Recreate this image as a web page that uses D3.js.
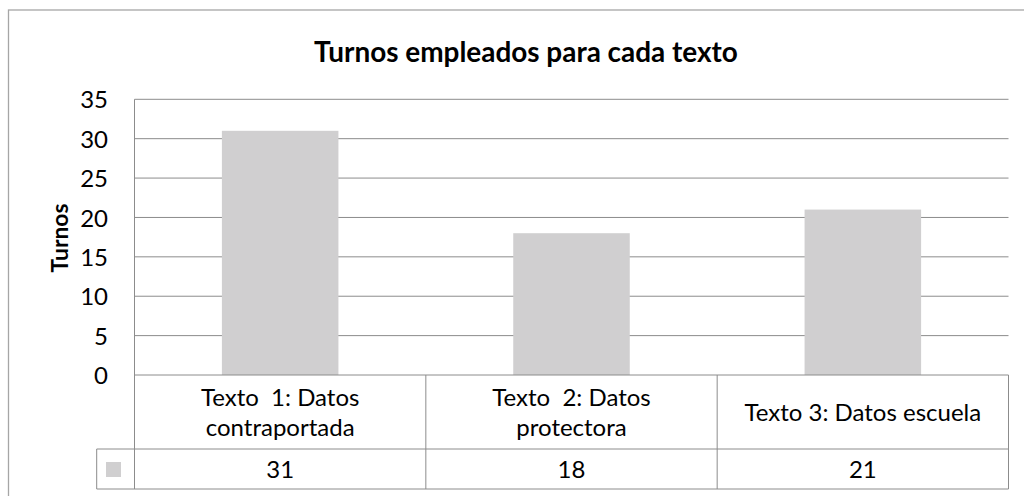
<!DOCTYPE html>
<html>
<head>
<meta charset="utf-8">
<script src="https://cdn.jsdelivr.net/npm/d3@7"></script>
<style>
html,body{margin:0;padding:0;background:#fff;}
svg{display:block;}
svg text{white-space:pre;}
</style>
</head>
<body>
<svg id="chart" width="1024" height="496"></svg>
<script>
const title = "Turnos empleados para cada texto";
const yAxisTitle = "Turnos";
const categories = ["Texto  1: Datos contraportada", "Texto  2: Datos protectora", "Texto 3: Datos escuela"];
const categoryLines = [["Texto  1: Datos", "contraportada"], ["Texto  2: Datos", "protectora"], ["Texto 3: Datos escuela"]];
const values = [31, 18, 21];
const yTicks = [0, 5, 10, 15, 20, 25, 30, 35];

const FONT = "Lato, 'Open Sans', sans-serif";
const svg = d3.select("#chart");

// measure to size fonts like the original (Calibri-like widths)
const cnv = document.createElement("canvas").getContext("2d");
function fitSize(text, weight, target) {
  cnv.font = `${weight} 100px Lato`;
  return 100 * target / cnv.measureText(text).width;
}
const bodySize = Math.min(24, fitSize("contraportada", "normal", 150));
const titleSize = Math.min(28, fitSize(title, "bold", 424));

const L = 134.5, R = 1008.5, T = 99.3, B = 375;
const tableMid = 449, tableBottom = 489, legendLeft = 96.7;
const gridColor = "#8c8c8c";
const barColor = "#d0cfd0";

// outer border
svg.append("rect").attr("x", 8.5).attr("y", 10).attr("width", 1030).attr("height", 500)
  .attr("fill", "none").attr("stroke", "#a6a6a6").attr("stroke-width", 1.3);

const x = d3.scaleBand().domain(categories).range([L, R]).paddingInner(0.6).paddingOuter(0.3);
const xCol = d3.scaleBand().domain(categories).range([L, R]).padding(0);
const y = d3.scaleLinear().domain([0, 35]).range([B, T]);

// gridlines
svg.append("g").selectAll("line").data(yTicks.filter(d => d > 0)).join("line")
  .attr("x1", L).attr("x2", R).attr("y1", d => y(d)).attr("y2", d => y(d))
  .attr("stroke", gridColor).attr("stroke-width", 1);

// left plot border
svg.append("line").attr("x1", L).attr("x2", L).attr("y1", T).attr("y2", tableBottom)
  .attr("stroke", gridColor);

// bars
svg.append("g").selectAll("rect").data(values).join("rect")
  .attr("x", (d, i) => x(categories[i]))
  .attr("width", x.bandwidth())
  .attr("y", d => y(d))
  .attr("height", d => B - y(d))
  .attr("fill", barColor);

// y tick labels
const yAxis = d3.axisLeft(y).tickValues(yTicks).tickSize(0).tickPadding(0);
const gy = svg.append("g").attr("transform", `translate(108,0)`).call(yAxis);
gy.select(".domain").remove();
gy.selectAll("text").attr("font-family", FONT).attr("font-size", bodySize)
  .attr("fill", "#000").attr("dy", "0.36em");

// y axis title
svg.append("text").attr("transform", `translate(68,238) rotate(-90)`)
  .attr("text-anchor", "middle").attr("font-family", FONT).attr("font-weight", "bold")
  .attr("font-size", bodySize * 0.95).text(yAxisTitle);

// title
svg.append("text").attr("x", 526).attr("y", 62).attr("text-anchor", "middle")
  .attr("font-family", FONT).attr("font-weight", "bold").attr("font-size", titleSize)
  .text(title);

// data table
const tbl = svg.append("g").attr("stroke", gridColor).attr("stroke-width", 1);
tbl.append("line").attr("x1", L).attr("x2", R).attr("y1", B).attr("y2", B);
tbl.append("line").attr("x1", legendLeft).attr("x2", R).attr("y1", tableMid).attr("y2", tableMid);
tbl.append("line").attr("x1", legendLeft).attr("x2", R).attr("y1", tableBottom).attr("y2", tableBottom);
tbl.append("line").attr("x1", legendLeft).attr("x2", legendLeft).attr("y1", tableMid).attr("y2", tableBottom);
tbl.selectAll(".vl").data(categories).join("line").attr("class", "vl")
  .attr("x1", d => xCol(d) + xCol.bandwidth()).attr("x2", d => xCol(d) + xCol.bandwidth())
  .attr("y1", B).attr("y2", tableBottom);

// legend key
svg.append("rect").attr("x", 106).attr("y", 462).attr("width", 15).attr("height", 15).attr("fill", barColor);

// category labels
const catMid = (B + tableMid) / 2;
const lineH = 30;
categories.forEach((c, i) => {
  const lines = categoryLines[i];
  const cx = xCol(c) + xCol.bandwidth() / 2;
  const t = svg.append("text").attr("text-anchor", "middle").attr("font-family", FONT)
    .attr("font-size", bodySize).attr("fill", "#000");
  lines.forEach((ln, j) => {
    t.append("tspan").attr("x", cx)
      .attr("y", catMid + (j - (lines.length - 1) / 2) * lineH)
      .attr("dy", "0.36em").text(ln);
  });
});

// value labels
svg.append("g").selectAll("text").data(values).join("text")
  .attr("x", (d, i) => xCol(categories[i]) + xCol.bandwidth() / 2)
  .attr("y", (tableMid + tableBottom) / 2).attr("dy", "0.36em")
  .attr("text-anchor", "middle").attr("font-family", FONT).attr("font-size", bodySize)
  .text(d => d);
</script>
</body>
</html>
